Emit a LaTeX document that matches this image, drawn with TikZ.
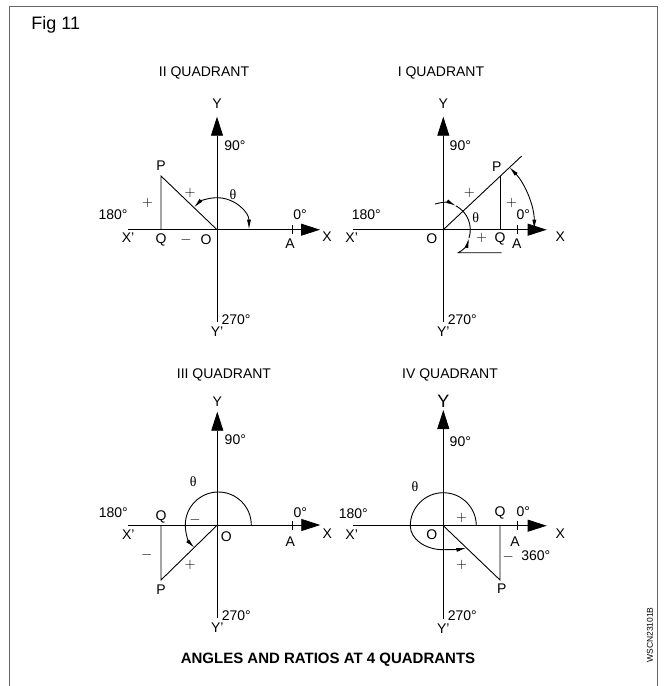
\documentclass[tikz,border=0pt]{standalone}
\usepackage{fontspec}
\setmainfont{Liberation Sans}
\newfontfamily\thetafont{Liberation Serif}
\usetikzlibrary{arrows.meta}

\tikzset{
  lbl/.style={inner sep=0pt, font=\fontsize{14}{16}\selectfont},
  sgn/.style={inner sep=0pt, font=\fontsize{14}{16}\selectfont},
  axis/.style={line width=0.8pt, -{Triangle[length=19pt,width=12pt]}},
  arctip/.style={-{Latex[length=10pt,width=4pt]}},
  bothtips/.style={{Latex[length=10pt,width=4pt]}-{Latex[length=10pt,width=4pt]}},
}

\begin{document}
\begin{tikzpicture}[x=1pt,y=1pt,line width=0.9pt]

  \useasboundingbox (0,0) rectangle (666,-686);

  % Frame and texts
  \draw[black!60, line width=1.6pt] (9.5,-686) -- (9.5,-6.5) -- (657.5,-6.5) -- (657.5,-686);
  \node[inner sep=0pt, font=\fontsize{18}{20}\selectfont] (fig) at (55.8,-25) {Fig 11};
  \node[inner sep=0pt, font=\fontsize{15}{17}\selectfont\bfseries] (caption) at (328,-660) {ANGLES AND RATIOS AT 4 QUADRANTS};
  \node[inner sep=0pt, rotate=90, font=\fontsize{8.5}{10}\selectfont] (code) at (650,-635) {WSCN23101B};

  % II quadrant
  \begin{scope}[shift={(217,-229.7)}]
	\coordinate (O2) at (0,0);
	\coordinate (P2) at (-56,53.7);
	\coordinate (Q2) at (-56,0);
	\draw[axis] (0,-92) -- (0,113);
	\draw[axis] (-89,0) -- (103,0);
	\draw (75.3,-4.5) -- (75.3,4.5);
	\draw (O2) -- (P2) -- (Q2);
	\draw[bothtips] (32,0) arc[start angle=0, end angle=136, radius=32];

	\node[lbl] (t2) at (-13,156.7) {II QUADRANT};
	\node[lbl] (y2) at (0,126) {Y};
	\node[lbl] (yp2) at (0,-101.5) {Y'};
	\node[lbl] (x2) at (110,-7) {X};
	\node[lbl] (xp2) at (-89,-8.3) {X'};
	\node[lbl] (d90b) at (18,84) {90°};
	\node[lbl] (d180b) at (-104,15) {180°};
	\node[lbl] (d0b) at (83,15) {0°};
	\node[lbl] (d270b) at (19,-90) {270°};
	\node[lbl] (a2) at (73,-14.3) {A};
	\node[lbl] (p2) at (-56,63.7) {P};
	\node[lbl] (q2) at (-56,-10.3) {Q};
	\node[lbl] (o2) at (-11,-10.3) {O};
	\node[sgn] (m2) at (-31,-10.3) {$-$};
	\node[sgn] (s2a) at (-69.3,27) {$+$};
	\node[sgn] (s2b) at (-27,37) {$+$};
	\node[lbl] (th2) at (16,34.7) {\thetafont θ};
  \end{scope}

  % I quadrant
  \begin{scope}[shift={(443.3,-229.7)}]
	\coordinate (O1) at (0,0);
	\coordinate (P1) at (56.7,54);
	\coordinate (Q1) at (56.7,0);
	\coordinate (E1) at (78.4,73.7);
	\draw[axis] (0,-92) -- (0,113);
	\draw[axis] (-90,0) -- (103.4,0);
	\draw (74.4,-4.5) -- (74.4,4.5);
	\draw (O1) -- (E1);
	\draw (P1) -- (Q1);
	\draw[bothtips] (91,0) arc[start angle=0, end angle=43.5, radius=91];
	\draw[arctip] (108:27) arc[start angle=108, end angle=62, radius=27];
	\draw (62:27) arc[start angle=62, end angle=-18, radius=27];
	\draw[arctip] (58.4,-23) -- (15,-23) .. controls (20,-20.5) and (24,-15) .. (-18:27);

	\node[lbl] (t1) at (-2.3,156.7) {I QUADRANT};
	\node[lbl] (y1) at (0,126) {Y};
	\node[lbl] (yp1) at (0,-101.5) {Y'};
	\node[lbl] (x1) at (117,-7) {X};
	\node[lbl] (xp1) at (-91.6,-8.3) {X'};
	\node[lbl] (d90a) at (17,84) {90°};
	\node[lbl] (d180a) at (-77,15) {180°};
	\node[lbl] (d0a) at (80,15) {0°};
	\node[lbl] (d270a) at (19,-90) {270°};
	\node[lbl] (a1) at (73.4,-14.3) {A};
	\node[lbl] (p1) at (53.4,63) {P};
	\node[lbl] (q1) at (56.7,-9.3) {Q};
	\node[lbl] (o1) at (-11.6,-9.3) {O};
	\node[sgn] (s1a) at (26,37) {$+$};
	\node[sgn] (s1b) at (68.4,27) {$+$};
	\node[sgn] (s1c) at (38.4,-8.6) {$+$};
	\node[lbl] (th1) at (32.4,12) {\thetafont θ};
  \end{scope}

  % III quadrant
  \begin{scope}[shift={(217.3,-525)}]
	\coordinate (O3) at (0,0);
	\coordinate (P3) at (-56.3,-55);
	\coordinate (Q3) at (-56.3,0);
	\draw[axis] (0,-93) -- (0,113.3);
	\draw[axis] (-89,0) -- (103,0);
	\draw (75,-4.5) -- (75,4.5);
	\draw (O3) -- (P3) -- (Q3);
	\draw[arctip] (34,0) arc[start angle=0, end angle=224, radius=33];

	\node[lbl] (t3) at (6.7,150) {III QUADRANT};
	\node[lbl] (y3) at (0,123.3) {Y};
	\node[lbl] (yp3) at (0,-102.5) {Y'};
	\node[lbl] (x3) at (110,-9) {X};
	\node[lbl] (xp3) at (-89,-10) {X'};
	\node[lbl] (d90c) at (18,85) {90°};
	\node[lbl] (d180c) at (-104,12.3) {180°};
	\node[lbl] (d0c) at (83,12.3) {0°};
	\node[lbl] (d270c) at (19,-91) {270°};
	\node[lbl] (a3) at (73,-16.7) {A};
	\node[lbl] (p3) at (-56.3,-64.3) {P};
	\node[lbl] (q3) at (-56.3,8.3) {Q};
	\node[lbl] (o3) at (9,-11.7) {O};
	\node[sgn] (m3a) at (-70.6,-30) {$-$};
	\node[sgn] (m3b) at (-22.3,5) {$-$};
	\node[sgn] (s3) at (-27.3,-40) {$+$};
	\node[lbl] (th3) at (-24,43.3) {\thetafont θ};
  \end{scope}

  % IV quadrant
  \begin{scope}[shift={(443.3,-525.7)}]
	\coordinate (O4) at (0,0);
	\coordinate (P4) at (56.7,-54.3);
	\coordinate (Q4) at (56.7,0);
	\draw[axis] (0,-93) -- (0,115.7);
	\draw[axis] (-90,0) -- (103.4,0);
	\draw (74.4,-4.5) -- (74.4,4.5);
	\draw (O4) -- (P4) -- (Q4);
	\draw[arctip] (33,0) arc[start angle=0, end angle=180, radius=33]
	  arc[start angle=180, end angle=270, x radius=33, y radius=24]
	  .. controls (10,-24) and (17,-23.5) .. (23,-22.3);

	\node[lbl] (t4) at (6.7,150.7) {IV QUADRANT};
	\node[inner sep=0pt, font=\fontsize{18}{20}\selectfont] (y4) at (0,124) {Y};
	\node[lbl] (yp4) at (0,-102.5) {Y'};
	\node[lbl] (x4) at (117,-8.3) {X};
	\node[lbl] (xp4) at (-91.6,-9.3) {X'};
	\node[lbl] (d90d) at (17,84) {90°};
	\node[lbl] (d180d) at (-90,12.4) {180°};
	\node[lbl] (d0d) at (80,14) {0°};
	\node[lbl] (d270d) at (19,-90.3) {270°};
	\node[lbl] (d360d) at (92.5,-30) {360°};
	\node[sgn] (m4) at (65,-35) {$\smash{-}$};
	\node[lbl] (a4) at (71.7,-15.5) {A};
	\node[lbl] (p4) at (58.4,-62.6) {P};
	\node[lbl] (q4) at (56.7,12.4) {Q};
	\node[lbl] (o4) at (-11.6,-9.3) {O};
	\node[sgn] (s4a) at (18.4,7.4) {$+$};
	\node[sgn] (s4b) at (18.4,-39.3) {$+$};
	\node[lbl] (th4) at (-28.3,39) {\thetafont θ};
  \end{scope}

\end{tikzpicture}
\end{document}
